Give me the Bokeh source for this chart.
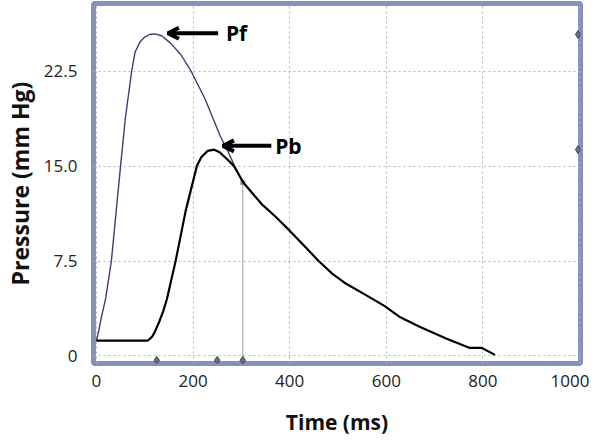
from bokeh.plotting import figure
from bokeh.models import FixedTicker, Arrow, OpenHead, Label
from bokeh.embed import file_html
from bokeh.resources import INLINE

# Pf curve (forward pressure), ms / mm Hg, up to where it joins Pb
pf_t = [0, 5, 10, 13, 19, 31, 50, 60, 73, 80, 90, 100, 110, 121, 135, 154, 175, 196, 225, 256, 273, 285]
pf_p = [1.2, 2.0, 3.0, 3.5, 4.5, 7.5, 15.0, 18.8, 22.5, 24.0, 24.8, 25.2, 25.4, 25.45, 25.3, 24.7, 23.8, 22.5, 20.3, 17.4, 16.1, 15.1]

# Pb curve (backward pressure) including the shared decay
pb_t = [0, 50, 106, 115, 121, 130, 138, 146, 164, 185, 208, 217, 230, 244, 255, 269, 285, 304, 342, 371, 400, 430, 460, 488, 517, 558, 596, 627, 669, 725, 773, 798, 825]
pb_p = [1.2, 1.2, 1.2, 1.5, 1.9, 2.7, 3.5, 4.5, 7.5, 11.5, 15.0, 15.7, 16.2, 16.3, 16.1, 15.6, 15.0, 13.7, 12.0, 11.0, 9.9, 8.7, 7.5, 6.5, 5.7, 4.8, 3.95, 3.1, 2.3, 1.35, 0.63, 0.63, 0.08]

# markers
mark_t = [125, 250, 303]
mark_p = [25.4, 16.3]
cursor_t = 303
cursor_p = 13.7

x_ticks = [0, 200, 400, 600, 800, 1000]
y_ticks = [0, 7.5, 15, 22.5]
y_labels = {0: "0", 7.5: "7.5", 15: "15.0", 22.5: "22.5"}

p = figure(width=589, height=438, output_backend="svg", toolbar_location=None,
           x_range=(-6, 1002), y_range=(-0.6, 27.85),
           min_border_left=88, min_border_right=9, min_border_top=3, min_border_bottom=70)

p.outline_line_color = "#8a90b5"
p.outline_line_width = 5
p.outline_line_alpha = 1.0

for ax in (p.xaxis[0], p.yaxis[0]):
    ax.axis_line_color = None
    ax.major_tick_line_color = None
    ax.minor_tick_line_color = None
    ax.major_label_text_font = "Open Sans"
    ax.major_label_text_font_size = "17px"
    ax.major_label_text_color = "#222222"
    ax.axis_label_text_font = "Open Sans"
    ax.axis_label_text_font_style = "bold"
    ax.axis_label_text_color = "#111111"

p.xaxis.axis_label_text_font_size = "21px"
p.yaxis.axis_label_text_font_size = "23px"
p.xaxis.ticker = FixedTicker(ticks=x_ticks)
p.yaxis.ticker = FixedTicker(ticks=y_ticks)
p.yaxis.major_label_overrides = y_labels
p.xaxis.axis_label = "Time (ms)"
p.yaxis.axis_label = "Pressure (mm Hg)"
p.xaxis.major_label_standoff = 5
p.yaxis.major_label_standoff = 10
p.xaxis.axis_label_standoff = 18
p.yaxis.axis_label_standoff = 5

p.xgrid.ticker = FixedTicker(ticks=x_ticks)
p.ygrid.ticker = FixedTicker(ticks=y_ticks)
for g in (p.xgrid[0], p.ygrid[0]):
    g.grid_line_color = "#b4b4b4"
    g.grid_line_dash = "2 3"
    g.grid_line_width = 1

# cursor line
p.segment(x0=[cursor_t], y0=[-0.6], x1=[cursor_t], y1=[cursor_p], line_color="#9a9a9a", line_width=1)
p.scatter([cursor_t], [cursor_p], marker="square", size=4, fill_color="#999999", line_color="#999999")

p.line(pf_t, pf_p, line_color="#3b3e72", line_width=1.4)
p.line(pb_t, pb_p, line_color="black", line_width=2.2)

# diamonds on borders
p.scatter(mark_t, [-0.35] * len(mark_t), marker="diamond", size=8, fill_color="#6b6f85", line_color="#3e4258")
p.scatter([997] * len(mark_p), mark_p, marker="diamond", size=8, fill_color="#6b6f85", line_color="#3e4258")

# arrows and labels
p.add_layout(Arrow(end=OpenHead(size=11, line_width=4, line_color="black"),
                   x_start=252, y_start=25.5, x_end=148, y_end=25.5, line_width=4, line_color="black"))
p.add_layout(Arrow(end=OpenHead(size=11, line_width=4, line_color="black"),
                   x_start=362, y_start=16.6, x_end=262, y_end=16.6, line_width=4, line_color="black"))
p.add_layout(Label(x=268, y=25.5, text="Pf", text_font="Open Sans", text_font_style="bold",
                   text_font_size="21px", text_baseline="middle", text_color="black"))
p.add_layout(Label(x=370, y=16.6, text="Pb", text_font="Open Sans", text_font_style="bold",
                   text_font_size="21px", text_baseline="middle", text_color="black"))

open("out.html", "w").write(file_html(p, INLINE))
